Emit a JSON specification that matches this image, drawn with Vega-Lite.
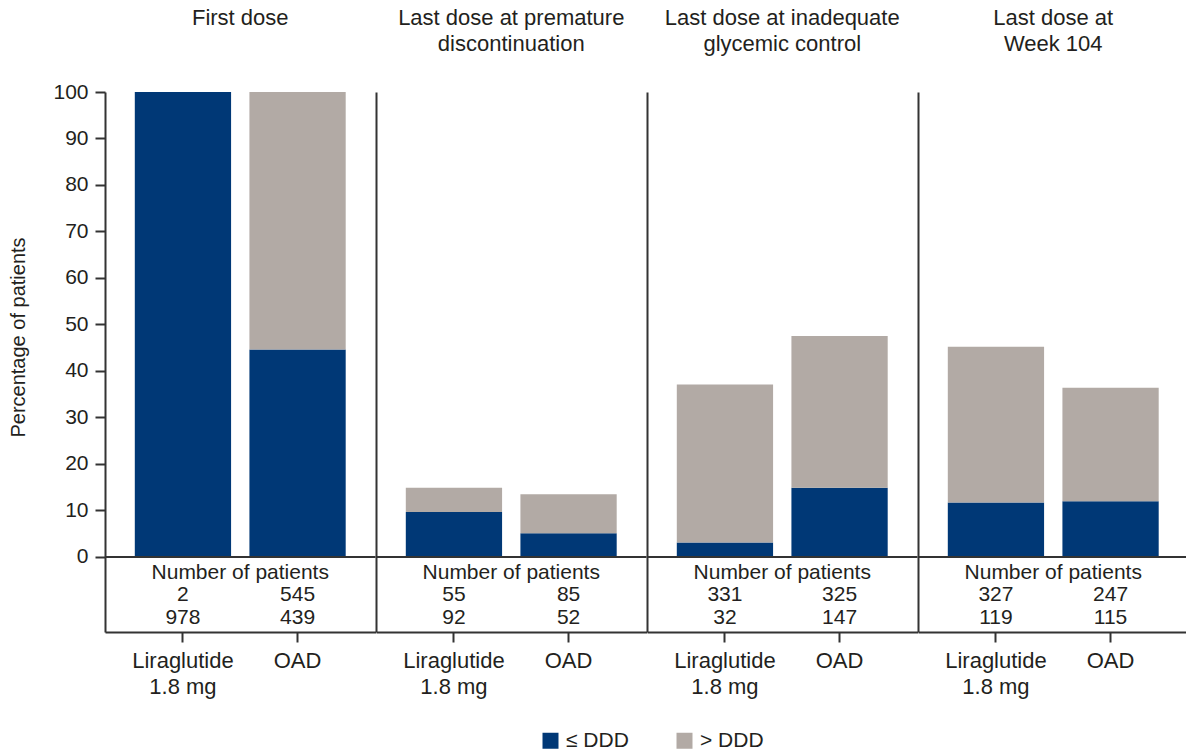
{
  "$schema": "https://vega.github.io/schema/vega-lite/v6.json",
  "padding": {"left": 8, "top": 7, "right": 0, "bottom": 0},
  "autosize": {"type": "pad"},
  "background": "white",
  "datasets": {
    "doses": [
      {"panel": "First dose", "group": "Liraglutide 1.8 mg", "category": "≤ DDD", "pct": 100, "n": 978},
      {"panel": "First dose", "group": "Liraglutide 1.8 mg", "category": "> DDD", "pct": 0, "n": 2},
      {"panel": "First dose", "group": "OAD", "category": "≤ DDD", "pct": 44.6, "n": 439},
      {"panel": "First dose", "group": "OAD", "category": "> DDD", "pct": 55.4, "n": 545},
      {"panel": "Premature", "group": "Liraglutide 1.8 mg", "category": "≤ DDD", "pct": 9.7, "n": 92},
      {"panel": "Premature", "group": "Liraglutide 1.8 mg", "category": "> DDD", "pct": 5.2, "n": 55},
      {"panel": "Premature", "group": "OAD", "category": "≤ DDD", "pct": 5.1, "n": 52},
      {"panel": "Premature", "group": "OAD", "category": "> DDD", "pct": 8.4, "n": 85},
      {"panel": "Inadequate", "group": "Liraglutide 1.8 mg", "category": "≤ DDD", "pct": 3.1, "n": 32},
      {"panel": "Inadequate", "group": "Liraglutide 1.8 mg", "category": "> DDD", "pct": 34.0, "n": 331},
      {"panel": "Inadequate", "group": "OAD", "category": "≤ DDD", "pct": 14.9, "n": 147},
      {"panel": "Inadequate", "group": "OAD", "category": "> DDD", "pct": 32.6, "n": 325},
      {"panel": "Week 104", "group": "Liraglutide 1.8 mg", "category": "≤ DDD", "pct": 11.7, "n": 119},
      {"panel": "Week 104", "group": "Liraglutide 1.8 mg", "category": "> DDD", "pct": 33.5, "n": 327},
      {"panel": "Week 104", "group": "OAD", "category": "≤ DDD", "pct": 12.0, "n": 115},
      {"panel": "Week 104", "group": "OAD", "category": "> DDD", "pct": 24.4, "n": 247}
    ]
  },
  "hconcat": [
    {
      "width": 270.5, "height": 540,
      "title": {"text": "First dose", "offset": 51},
      "data": {"name": "doses"},
      "transform": [{"filter": "datum.panel == 'First dose'"}],
      "layer": [
        {
          "mark": {"type": "bar"},
          "encoding": {
            "x": {"field": "group", "type": "nominal", "sort": ["Liraglutide 1.8 mg", "OAD"], "scale": {"paddingInner": 0.16, "paddingOuter": 0.26},
              "axis": {"title": null, "labelAngle": 0, "labelExpr": "datum.value == 'OAD' ? 'OAD' : ['Liraglutide', '1.8 mg']"}},
            "y": {"field": "pct", "type": "quantitative", "stack": "zero", "scale": {"domain": [-16.13, 100], "nice": false, "zero": false},
              "axis": {"title": "Percentage of patients", "titleY": 245, "values": [0, 10, 20, 30, 40, 50, 60, 70, 80, 90, 100], "labels": true, "ticks": true, "labelFontSize": 21}},
            "color": {"field": "category", "type": "nominal", "scale": {"domain": ["≤ DDD", "> DDD"], "range": ["#003876", "#b2aaa5"]},
              "legend": {"title": null, "orient": "none", "direction": "horizontal", "legendX": 435, "legendY": 638}},
            "order": {"field": "category", "sort": "descending"}
          }
        },
        {"data": {"values": [{"zero": 0}]}, "mark": {"type": "rule", "color": "#333333", "strokeWidth": 2}, "encoding": {"y": {"field": "zero", "type": "quantitative"}}},
        {"data": {"values": [{"label": "Number of patients"}]}, "mark": {"type": "text", "baseline": "alphabetic"}, "encoding": {"text": {"field": "label"}, "y": {"datum": -4.7}}},
        {"transform": [{"filter": "datum.category == '> DDD'"}], "mark": {"type": "text", "baseline": "alphabetic"},
          "encoding": {"x": {"field": "group", "type": "nominal", "sort": ["Liraglutide 1.8 mg", "OAD"]}, "text": {"field": "n"}, "y": {"datum": -9.4}}},
        {"transform": [{"filter": "datum.category == '≤ DDD'"}], "mark": {"type": "text", "baseline": "alphabetic"},
          "encoding": {"x": {"field": "group", "type": "nominal", "sort": ["Liraglutide 1.8 mg", "OAD"]}, "text": {"field": "n"}, "y": {"datum": -14.4}}}
      ]
    },
    {
      "width": 270.5, "height": 540,
      "title": {"text": ["Last dose at premature", "discontinuation"]},
      "data": {"name": "doses"},
      "transform": [{"filter": "datum.panel == 'Premature'"}],
      "layer": [
        {
          "mark": {"type": "bar"},
          "encoding": {
            "x": {"field": "group", "type": "nominal", "sort": ["Liraglutide 1.8 mg", "OAD"], "scale": {"paddingInner": 0.16, "paddingOuter": 0.26},
              "axis": {"title": null, "labelAngle": 0, "labelExpr": "datum.value == 'OAD' ? 'OAD' : ['Liraglutide', '1.8 mg']"}},
            "y": {"field": "pct", "type": "quantitative", "stack": "zero", "scale": {"domain": [-16.13, 100], "nice": false, "zero": false},
              "axis": {"title": null, "labels": false, "ticks": false}},
            "color": {"field": "category", "type": "nominal", "scale": {"domain": ["≤ DDD", "> DDD"], "range": ["#003876", "#b2aaa5"]}},
            "order": {"field": "category", "sort": "descending"}
          }
        },
        {"data": {"values": [{"zero": 0}]}, "mark": {"type": "rule", "color": "#333333", "strokeWidth": 2}, "encoding": {"y": {"field": "zero", "type": "quantitative"}}},
        {"data": {"values": [{"label": "Number of patients"}]}, "mark": {"type": "text", "baseline": "alphabetic"}, "encoding": {"text": {"field": "label"}, "y": {"datum": -4.7}}},
        {"transform": [{"filter": "datum.category == '> DDD'"}], "mark": {"type": "text", "baseline": "alphabetic"},
          "encoding": {"x": {"field": "group", "type": "nominal", "sort": ["Liraglutide 1.8 mg", "OAD"]}, "text": {"field": "n"}, "y": {"datum": -9.4}}},
        {"transform": [{"filter": "datum.category == '≤ DDD'"}], "mark": {"type": "text", "baseline": "alphabetic"},
          "encoding": {"x": {"field": "group", "type": "nominal", "sort": ["Liraglutide 1.8 mg", "OAD"]}, "text": {"field": "n"}, "y": {"datum": -14.4}}}
      ]
    },
    {
      "width": 270.5, "height": 540,
      "title": {"text": ["Last dose at inadequate", "glycemic control"]},
      "data": {"name": "doses"},
      "transform": [{"filter": "datum.panel == 'Inadequate'"}],
      "layer": [
        {
          "mark": {"type": "bar"},
          "encoding": {
            "x": {"field": "group", "type": "nominal", "sort": ["Liraglutide 1.8 mg", "OAD"], "scale": {"paddingInner": 0.16, "paddingOuter": 0.26},
              "axis": {"title": null, "labelAngle": 0, "labelExpr": "datum.value == 'OAD' ? 'OAD' : ['Liraglutide', '1.8 mg']"}},
            "y": {"field": "pct", "type": "quantitative", "stack": "zero", "scale": {"domain": [-16.13, 100], "nice": false, "zero": false},
              "axis": {"title": null, "labels": false, "ticks": false}},
            "color": {"field": "category", "type": "nominal", "scale": {"domain": ["≤ DDD", "> DDD"], "range": ["#003876", "#b2aaa5"]}},
            "order": {"field": "category", "sort": "descending"}
          }
        },
        {"data": {"values": [{"zero": 0}]}, "mark": {"type": "rule", "color": "#333333", "strokeWidth": 2}, "encoding": {"y": {"field": "zero", "type": "quantitative"}}},
        {"data": {"values": [{"label": "Number of patients"}]}, "mark": {"type": "text", "baseline": "alphabetic"}, "encoding": {"text": {"field": "label"}, "y": {"datum": -4.7}}},
        {"transform": [{"filter": "datum.category == '> DDD'"}], "mark": {"type": "text", "baseline": "alphabetic"},
          "encoding": {"x": {"field": "group", "type": "nominal", "sort": ["Liraglutide 1.8 mg", "OAD"]}, "text": {"field": "n"}, "y": {"datum": -9.4}}},
        {"transform": [{"filter": "datum.category == '≤ DDD'"}], "mark": {"type": "text", "baseline": "alphabetic"},
          "encoding": {"x": {"field": "group", "type": "nominal", "sort": ["Liraglutide 1.8 mg", "OAD"]}, "text": {"field": "n"}, "y": {"datum": -14.4}}}
      ]
    },
    {
      "width": 270.5, "height": 540,
      "title": {"text": ["Last dose at", "Week 104"]},
      "data": {"name": "doses"},
      "transform": [{"filter": "datum.panel == 'Week 104'"}],
      "layer": [
        {
          "mark": {"type": "bar"},
          "encoding": {
            "x": {"field": "group", "type": "nominal", "sort": ["Liraglutide 1.8 mg", "OAD"], "scale": {"paddingInner": 0.16, "paddingOuter": 0.26},
              "axis": {"title": null, "labelAngle": 0, "labelExpr": "datum.value == 'OAD' ? 'OAD' : ['Liraglutide', '1.8 mg']"}},
            "y": {"field": "pct", "type": "quantitative", "stack": "zero", "scale": {"domain": [-16.13, 100], "nice": false, "zero": false},
              "axis": {"title": null, "labels": false, "ticks": false}},
            "color": {"field": "category", "type": "nominal", "scale": {"domain": ["≤ DDD", "> DDD"], "range": ["#003876", "#b2aaa5"]}},
            "order": {"field": "category", "sort": "descending"}
          }
        },
        {"data": {"values": [{"zero": 0}]}, "mark": {"type": "rule", "color": "#333333", "strokeWidth": 2}, "encoding": {"y": {"field": "zero", "type": "quantitative"}}},
        {"data": {"values": [{"label": "Number of patients"}]}, "mark": {"type": "text", "baseline": "alphabetic"}, "encoding": {"text": {"field": "label"}, "y": {"datum": -4.7}}},
        {"transform": [{"filter": "datum.category == '> DDD'"}], "mark": {"type": "text", "baseline": "alphabetic"},
          "encoding": {"x": {"field": "group", "type": "nominal", "sort": ["Liraglutide 1.8 mg", "OAD"]}, "text": {"field": "n"}, "y": {"datum": -9.4}}},
        {"transform": [{"filter": "datum.category == '≤ DDD'"}], "mark": {"type": "text", "baseline": "alphabetic"},
          "encoding": {"x": {"field": "group", "type": "nominal", "sort": ["Liraglutide 1.8 mg", "OAD"]}, "text": {"field": "n"}, "y": {"datum": -14.4}}}
      ]
    }
  ],
  "spacing": 0,
  "bounds": "flush",
  "resolve": {"scale": {"x": "independent", "y": "independent", "color": "shared"}},
  "config": {
    "font": "Liberation Sans",
    "view": {"stroke": null},
    "text": {"font": "Liberation Sans", "fontSize": 21, "color": "#231f20"},
    "title": {"font": "Liberation Sans", "fontSize": 22, "fontWeight": "normal", "color": "#231f20", "lineHeight": 26, "offset": 36, "anchor": "middle"},
    "axis": {
      "labelFont": "Liberation Sans", "titleFont": "Liberation Sans",
      "labelColor": "#231f20", "titleColor": "#231f20",
      "domainColor": "#333333", "domainWidth": 2, "tickColor": "#333333", "tickWidth": 2,
      "grid": false, "minExtent": 0, "labelFontSize": 22
    },
    "axisX": {"tickSize": 10, "labelPadding": 8, "labelLineHeight": 26, "labelBaseline": "top"},
    "axisY": {"tickSize": 10, "labelPadding": 7, "titlePadding": 24, "titleFontSize": 20, "titleFontWeight": "normal"},
    "legend": {
      "labelFont": "Liberation Sans", "labelFontSize": 21, "labelColor": "#231f20",
      "symbolType": "square", "symbolSize": 256, "symbolStrokeWidth": 0, "symbolOpacity": 1,
      "columnPadding": 45, "labelOffset": 5
    }
  }
}
